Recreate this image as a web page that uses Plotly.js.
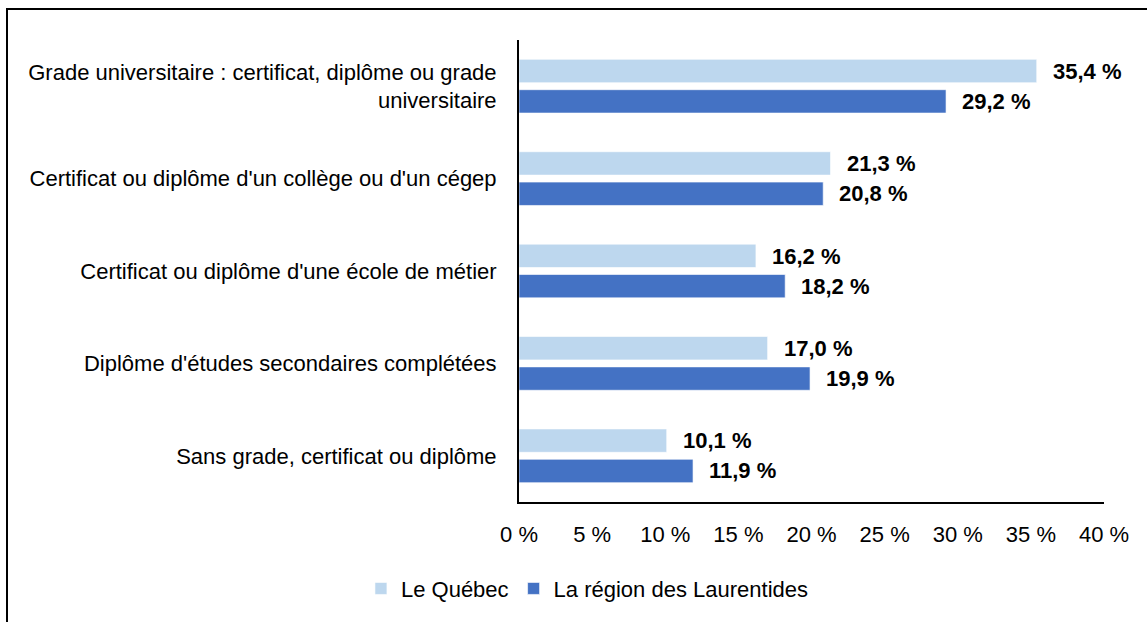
<!DOCTYPE html>
<html>
<head>
<meta charset="utf-8">
<script src="https://cdn.plot.ly/plotly-3.0.1.min.js"></script>
<style>
  html, body { margin: 0; padding: 0; background: #fff; overflow: hidden; }
  #frame { position: absolute; left: 6px; top: 8px; width: 1300px; height: 800px;
           border-left: 2px solid #000; border-top: 2px solid #000; }
  #chart { position: absolute; left: 0; top: 0; width: 1147px; height: 622px; }
</style>
</head>
<body>
<div id="frame"></div>
<div id="chart"></div>
<script>
const categories = [
  "Grade universitaire : certificat, diplôme ou grade<br>universitaire",
  "Certificat ou diplôme d'un collège ou d'un cégep",
  "Certificat ou diplôme d'une école de métier",
  "Diplôme d'études secondaires complétées",
  "Sans grade, certificat ou diplôme"
];
const seriesNames = ["Le Québec", "La région des Laurentides"];
const quebec = [35.4, 21.3, 16.2, 17.0, 10.1];
const laurentides = [29.2, 20.8, 18.2, 19.9, 11.9];
const xTicks = [0, 5, 10, 15, 20, 25, 30, 35, 40];

const FONT = '"Liberation Sans Narrow", "Arial Narrow", "Liberation Sans", Arial, sans-serif';
const colors = ["#BDD7EE", "#4472C4"];
const fmt = v => v.toFixed(1).replace('.', ',') + ' %';

const traces = [quebec, laurentides].map((vals, i) => ({
  type: 'bar',
  orientation: 'h',
  name: seriesNames[i],
  y: categories,
  x: vals,
  marker: { color: colors[i], line: { color: 'rgba(255,255,255,0.6)', width: 1 } },
  hoverinfo: 'x+y'
}));

const annotations = [];
[quebec, laurentides].forEach((vals, i) => {
  vals.forEach((v, j) => {
    annotations.push({
      x: v, y: categories[j], xref: 'x', yref: 'y',
      text: fmt(v), showarrow: false,
      xanchor: 'left', yanchor: 'middle',
      xshift: 14, yshift: i === 0 ? 15 : -15,
      font: { family: FONT, size: 22, color: '#000', weight: 'bold' }
    });
  });
});

const layout = {
  width: 1147, height: 622,
  margin: { l: 519, r: 43, t: 40, b: 118 },
  paper_bgcolor: 'rgba(0,0,0,0)',
  plot_bgcolor: 'rgba(0,0,0,0)',
  barmode: 'group',
  bargap: 0.343,
  bargroupgap: 0.23,
  font: { family: FONT, size: 22, color: '#000' },
  xaxis: {
    range: [0, 40], tickvals: xTicks, ticktext: xTicks.map(t => t + ' %'),
    showgrid: false, zeroline: false, showline: true, linecolor: '#000', linewidth: 2,
    ticks: '', ticklabelstandoff: 12, fixedrange: true,
    tickfont: { family: FONT, size: 22, color: '#000' }
  },
  yaxis: {
    autorange: 'reversed', type: 'category',
    showgrid: false, zeroline: false, showline: true, linecolor: '#000', linewidth: 2,
    ticks: '', ticklabelstandoff: 16, fixedrange: true, automargin: false,
    tickfont: { family: FONT, size: 22, color: '#000' }
  },
  showlegend: true,
  legend: {
    orientation: 'h', x: 0.117, xanchor: 'center', y: -0.1875, yanchor: 'middle',
    xref: 'paper', yref: 'paper',
    font: { family: FONT, size: 22, color: '#000' },
    traceorder: 'normal', itemclick: false, itemdoubleclick: false
  },
  annotations: annotations
};

Plotly.newPlot('chart', traces, layout, { displayModeBar: false, staticPlot: true });
</script>
</body>
</html>
